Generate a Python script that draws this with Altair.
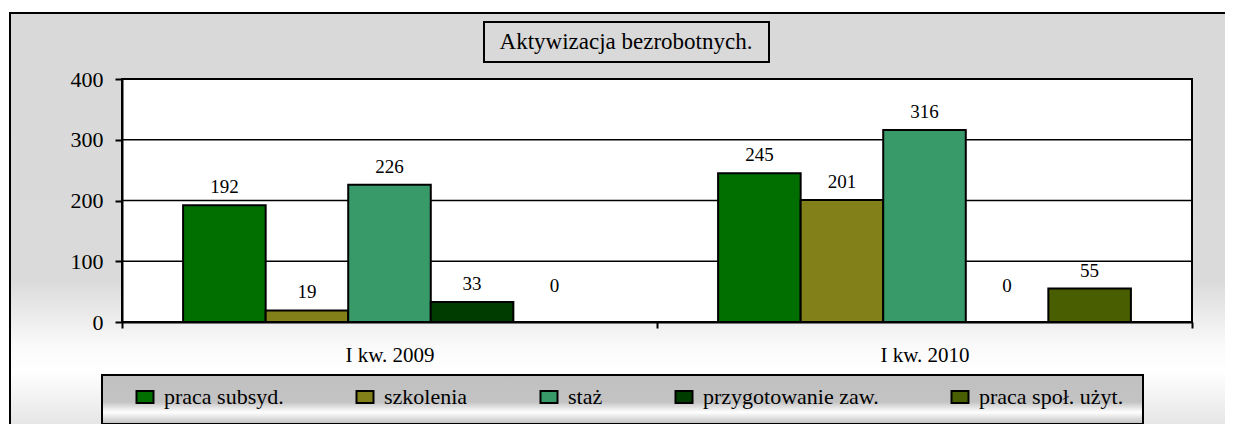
import altair as alt
import pandas as pd

# ---- data ----
quarters = ["I kw. 2009", "I kw. 2010"]
series = ["praca subsyd.", "szkolenia", "staż", "przygotowanie zaw.", "praca społ. użyt."]
values_2009 = [192, 19, 226, 33, 0]
values_2010 = [245, 201, 316, 0, 55]
palette = ["#006F00", "#828019", "#399A69", "#003C00", "#485E00"]
y_ticks = [0, 100, 200, 300, 400]
grid_values = [100, 200, 300, 400]
title_text = "Aktywizacja bezrobotnych."

rows = []
for q, vals in zip(quarters, [values_2009, values_2010]):
    for s, v in zip(series, vals):
        rows.append({"kwartal": q, "seria": s, "wartosc": v})
df = pd.DataFrame(rows)
grid_df = pd.DataFrame({"g": grid_values})
one = pd.DataFrame({"k": [0]})

W, H = 1070, 243
FONT = "'Liberation Serif', 'Times New Roman', Times, serif"

bg_grad = alt.LinearGradient(
    gradient="linear", x1=0, x2=0, y1=0, y2=1,
    stops=[
        alt.GradientStop(color="#D9D9D9", offset=0),
        alt.GradientStop(color="#DADADA", offset=0.625),
        alt.GradientStop(color="#FAFAFA", offset=0.78),
        alt.GradientStop(color="#FFFFFF", offset=0.84),
        alt.GradientStop(color="#E2E2E2", offset=0.98),
        alt.GradientStop(color="#DDDDDD", offset=1),
    ],
)
legend_grad = alt.LinearGradient(
    gradient="linear", x1=0, x2=0, y1=0, y2=1,
    stops=[
        alt.GradientStop(color="#C0C0C0", offset=0),
        alt.GradientStop(color="#C3C3C3", offset=0.55),
        alt.GradientStop(color="#FFFFFF", offset=0.76),
        alt.GradientStop(color="#BEBEBE", offset=1),
    ],
)

background = alt.Chart(one).mark_rect(fill=bg_grad, stroke="black", strokeWidth=2).encode(
    x=alt.value(-112), x2=alt.value(1118), y=alt.value(-66), y2=alt.value(361)
)
title_box = alt.Chart(one).mark_rect(fill="#D9D9D9", stroke="black", strokeWidth=2).encode(
    x=alt.value(362), x2=alt.value(647), y=alt.value(-57), y2=alt.value(-17)
)
title_mark = alt.Chart(one).mark_text(
    font=FONT, fontSize=23, color="black", align="center", baseline="middle"
).encode(x=alt.value(504), y=alt.value(-37), text=alt.value(title_text))
legend_box = alt.Chart(one).mark_rect(fill=legend_grad, stroke="black", strokeWidth=2).encode(
    x=alt.value(-20), x2=alt.value(1021), y=alt.value(296), y2=alt.value(345)
)
plot_bg = alt.Chart(one).mark_rect(fill="white", stroke="black", strokeWidth=2).encode(
    x=alt.value(0), x2=alt.value(W), y=alt.value(0), y2=alt.value(H)
)

y_scale = alt.Scale(domain=[0, 400], nice=False)
grid = alt.Chart(grid_df).mark_rule(color="black", strokeWidth=1.6).encode(
    y=alt.Y("g:Q", scale=y_scale)
)

x_enc = alt.X(
    "kwartal:N", sort=quarters,
    scale=alt.Scale(paddingInner=0, paddingOuter=0),
    axis=alt.Axis(
        title=None, labelAngle=0, tickBand="extent", tickSize=6, tickWidth=2,
        tickColor="black", domainColor="black", domainWidth=2,
        labelFont=FONT, labelFontSize=21, labelColor="black", labelPadding=16, zindex=1,
    ),
)
xoff_enc = alt.XOffset("seria:N", sort=series, scale=alt.Scale(paddingOuter=0.74, paddingInner=0))
y_enc = alt.Y(
    "wartosc:Q", scale=y_scale,
    axis=alt.Axis(
        values=y_ticks, grid=False, title=None, tickSize=7, tickWidth=2, tickColor="black",
        domainColor="black", domainWidth=2, labelFont=FONT, labelFontSize=22,
        labelColor="black", labelPadding=12, zindex=1,
    ),
)

bars = alt.Chart(df).mark_bar(stroke="black", strokeWidth=2, opacity=1).encode(
    x=x_enc, xOffset=xoff_enc, y=y_enc,
    color=alt.Color(
        "seria:N", sort=series,
        scale=alt.Scale(domain=series, range=palette),
        legend=alt.Legend(
            title=None, orient="none", legendX=12, legendY=307, direction="horizontal",
            columns=5, columnPadding=68, padding=0,
            symbolType="M-1.4167,-1H1.4167V1H-1.4167Z", symbolSize=144,
            symbolStrokeColor="black", symbolStrokeWidth=2, symbolOpacity=1,
            labelFont=FONT, labelFontSize=22, labelColor="black", labelOffset=8,
            labelLimit=400,
        ),
    ),
)

labels_nz = alt.Chart(df).transform_filter("datum.wartosc != 0").mark_text(
    font=FONT, fontSize=19, color="black", baseline="middle", dy=-18
).encode(x=x_enc, xOffset=xoff_enc, y=y_enc, text="wartosc:Q")
labels_z = alt.Chart(df).transform_filter("datum.wartosc == 0").mark_text(
    font=FONT, fontSize=19, color="black", baseline="middle", dy=-36
).encode(x=x_enc, xOffset=xoff_enc, y=y_enc, text="wartosc:Q")

chart = alt.layer(
    background, title_box, title_mark, legend_box, plot_bg, grid, bars, labels_nz, labels_z
).properties(
    width=W, height=H,
    autosize=alt.AutoSizeParams(type="none"),
    padding={"left": 114, "top": 71, "right": 33, "bottom": 102},
    background="white",
).configure_view(stroke=None)

chart.save("out.html", embed_options={"renderer": "svg", "actions": False})
